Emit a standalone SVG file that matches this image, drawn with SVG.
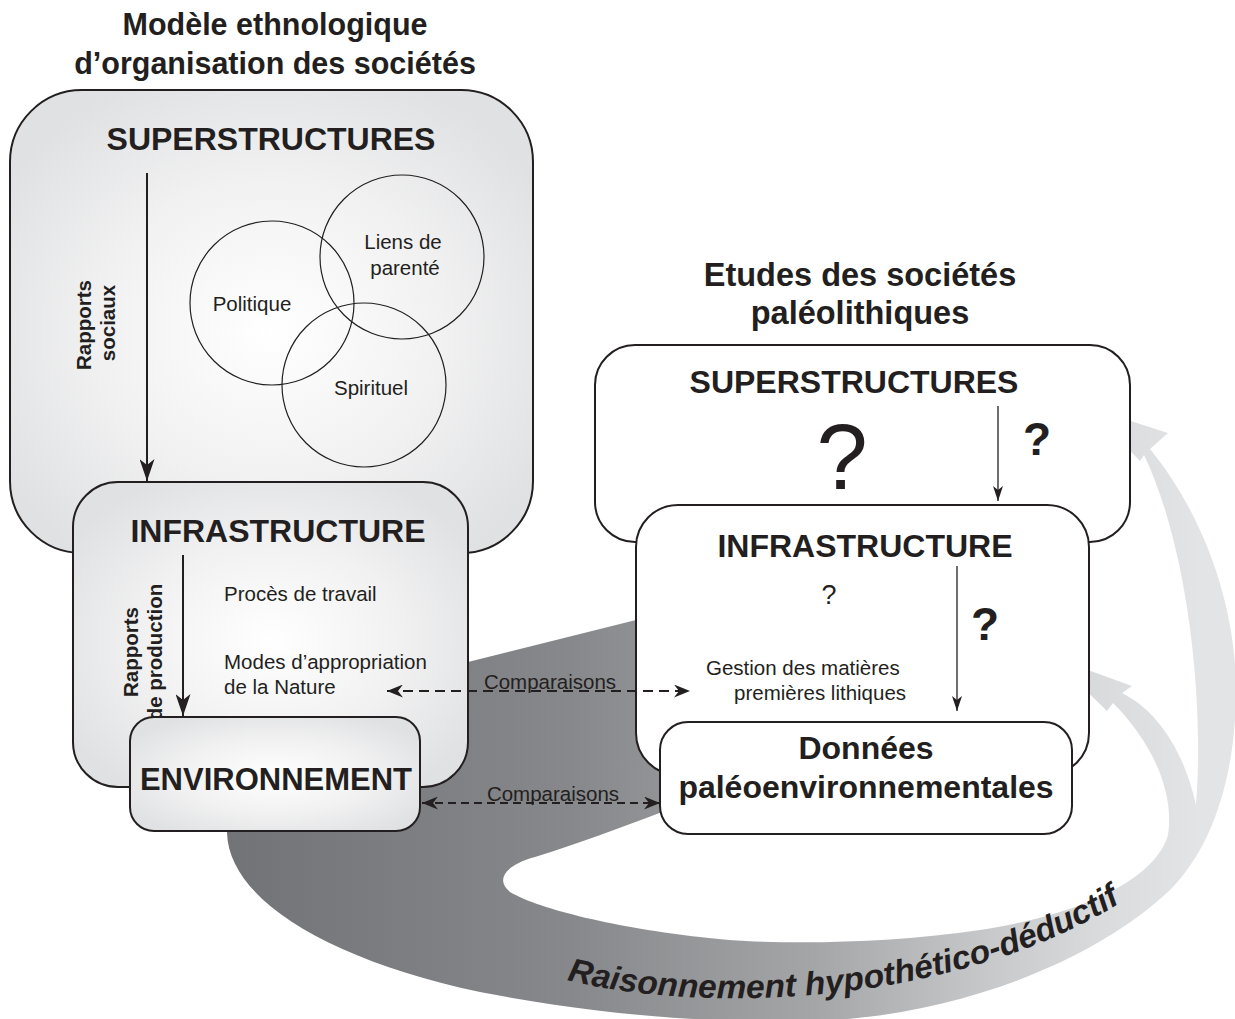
<svg xmlns="http://www.w3.org/2000/svg" width="1235" height="1019" viewBox="0 0 1235 1019">
<defs>
<radialGradient id="gBox" cx="0.5" cy="0.52" r="0.6">
<stop offset="0" stop-color="#ffffff"/>
<stop offset="0.55" stop-color="#f1f1f2"/>
<stop offset="1" stop-color="#e0e1e2"/>
</radialGradient>
<linearGradient id="gBand" gradientUnits="userSpaceOnUse" x1="230" y1="0" x2="1200" y2="0">
<stop offset="0" stop-color="#727376"/>
<stop offset="0.35" stop-color="#87888b"/>
<stop offset="0.6" stop-color="#a4a5a7"/>
<stop offset="0.78" stop-color="#c7c8ca"/>
<stop offset="0.9" stop-color="#dadbdd"/>
<stop offset="1" stop-color="#e3e4e5"/>
</linearGradient>
<marker id="mBig" markerUnits="userSpaceOnUse" viewBox="0 0 22 15" markerWidth="22" markerHeight="15" refX="22" refY="7.5" orient="auto">
<path d="M0,0 L22,7.5 L0,15 L6,7.5 Z" fill="#231f20"/>
</marker>
<marker id="mSmall" markerUnits="userSpaceOnUse" viewBox="0 0 15 10" markerWidth="15" markerHeight="10" refX="15" refY="5" orient="auto">
<path d="M0,0 L15,5 L0,10 L4,5 Z" fill="#231f20"/>
</marker>
<marker id="mDash" markerUnits="userSpaceOnUse" viewBox="0 0 16 13" markerWidth="16" markerHeight="13" refX="16" refY="6.5" orient="auto-start-reverse">
<path d="M0,0 L16,6.5 L0,13 L5,6.5 Z" fill="#231f20"/>
</marker>
</defs>
<style>
.box{stroke:#231f20;stroke-width:2}
.grad{fill:url(#gBox)}
.white{fill:#ffffff}
.circ{fill:none;stroke:#231f20;stroke-width:1.2}
text{font-family:"Liberation Sans",Arial,Helvetica,sans-serif;fill:#231f20}
.title{font-weight:bold;font-size:30.5px;text-anchor:middle}
.head{font-weight:bold;font-size:32px;text-anchor:middle}
.lab{font-size:20.5px}
.mid{text-anchor:middle}
.rot{font-weight:bold;font-size:20.5px;text-anchor:middle}
.q{text-anchor:middle}
.conn{stroke:#231f20;fill:none}
</style>

<g id="band">
<path fill="url(#gBand)" d="M 700,604 L 468,662 C 380,690 225,770 227,833 C 229,900 330,960 480,992 C 600,1015 700,1022 800,1022 C 950,1018 1090,965 1170,890 C 1215,845 1236,770 1236,690 C 1236,600 1200,510 1150,449 L 1168,433 L 1087,407 L 1140,461 L 1144,455 C 1185,540 1205,690 1196,805 C 1185,755 1160,712 1122,693 L 1132,686 L 1052,657 L 1107,711 L 1113,703 C 1150,740 1175,790 1168,835 C 1155,880 1080,915 980,930 C 880,945 760,945 700,937 C 620,928 540,910 510,892 C 495,880 505,865 535,857 C 580,843 620,828 662,812 L 700,800 Z"/>
<path id="txtPath" d="M 567,980 C 700,1014 950,1007 1120,903" fill="none"/>
<text font-weight="bold" font-style="italic" font-size="33" textLength="572" lengthAdjust="spacingAndGlyphs"><textPath href="#txtPath">Raisonnement hypothético-déductif</textPath></text>
</g>

<g id="titles">
<text class="title" x="275" y="35">Modèle ethnologique</text>
<text class="title" x="275" y="74">d’organisation des sociétés</text>
<text class="title" x="860" y="286" style="font-size:32.5px">Etudes des sociétés</text>
<text class="title" x="860" y="324" style="font-size:32.5px">paléolithiques</text>
</g>

<g id="node-left-super">
<rect class="box grad" x="10" y="90" width="523" height="463" rx="72" ry="72"/>
<text class="head" x="271" y="150">SUPERSTRUCTURES</text>
<text class="rot" transform="translate(91,325) rotate(-90)">Rapports</text>
<text class="rot" transform="translate(115,323) rotate(-90)">sociaux</text>
</g>

<g id="node-politique">
<circle class="circ" cx="272" cy="303" r="82"/>
<text class="lab mid" x="252" y="311">Politique</text>
</g>
<g id="node-liens">
<circle class="circ" cx="402" cy="257" r="82"/>
<text class="lab mid" x="403" y="249">Liens de</text>
<text class="lab mid" x="405" y="275">parenté</text>
</g>
<g id="node-spirituel">
<circle class="circ" cx="364" cy="385" r="82"/>
<text class="lab mid" x="371" y="395">Spirituel</text>
</g>

<g id="node-left-infra">
<rect class="box grad" x="73" y="482" width="395" height="305" rx="45" ry="45"/>
<text class="head" x="278" y="542">INFRASTRUCTURE</text>
<text class="lab" x="224" y="601">Procès de travail</text>
<text class="lab" x="224" y="669">Modes d’appropriation</text>
<text class="lab" x="224" y="694">de la Nature</text>
<text class="rot" transform="translate(138,652) rotate(-90)">Rapports</text>
<text class="rot" transform="translate(162,652) rotate(-90)">de production</text>
</g>

<g id="node-env">
<rect class="box grad" x="130" y="717" width="290" height="114" rx="24" ry="24"/>
<text class="head" x="276" y="790" style="font-size:31px">ENVIRONNEMENT</text>
</g>

<g id="node-right-super">
<rect class="box white" x="595" y="345" width="535" height="197" rx="40" ry="40"/>
<text class="head" x="854" y="393">SUPERSTRUCTURES</text>
<text class="q" x="842" y="489" font-size="92">?</text>
<text class="q" x="1037" y="455" font-size="46" font-weight="bold">?</text>
</g>

<g id="node-right-infra">
<rect class="box white" x="636" y="505" width="453" height="270" rx="42" ry="42"/>
<text class="head" x="865" y="557">INFRASTRUCTURE</text>
<text class="q" x="829" y="604" font-size="27">?</text>
<text class="q" x="985" y="640" font-size="46" font-weight="bold">?</text>
<text class="lab" x="706" y="675">Gestion des matières</text>
<text class="lab" x="734" y="700">premières lithiques</text>
</g>

<g id="node-donnees">
<rect class="box white" x="660" y="722" width="412" height="112" rx="28" ry="28"/>
<text class="head" x="866" y="759">Données</text>
<text class="head" x="866" y="798">paléoenvironnementales</text>
</g>

<g id="connectors">
<line class="conn" x1="147" y1="173" x2="147" y2="481" stroke-width="2" marker-end="url(#mBig)"/>
<line class="conn" x1="183" y1="555" x2="183" y2="716" stroke-width="2" marker-end="url(#mBig)"/>
<line class="conn" x1="998" y1="406" x2="998" y2="501" stroke-width="1.3" marker-end="url(#mSmall)"/>
<line class="conn" x1="957" y1="566" x2="957" y2="711" stroke-width="1.3" marker-end="url(#mSmall)"/>
<line class="conn" x1="387" y1="691" x2="690" y2="691" stroke-width="1.8" stroke-dasharray="10 6" marker-start="url(#mDash)" marker-end="url(#mDash)"/>
<line class="conn" x1="422" y1="803" x2="660" y2="803" stroke-width="1.8" stroke-dasharray="8 5" marker-start="url(#mDash)" marker-end="url(#mDash)"/>
<text class="lab mid" x="550" y="689">Comparaisons</text>
<text class="lab mid" x="553" y="801">Comparaisons</text>
</g>
</svg>
